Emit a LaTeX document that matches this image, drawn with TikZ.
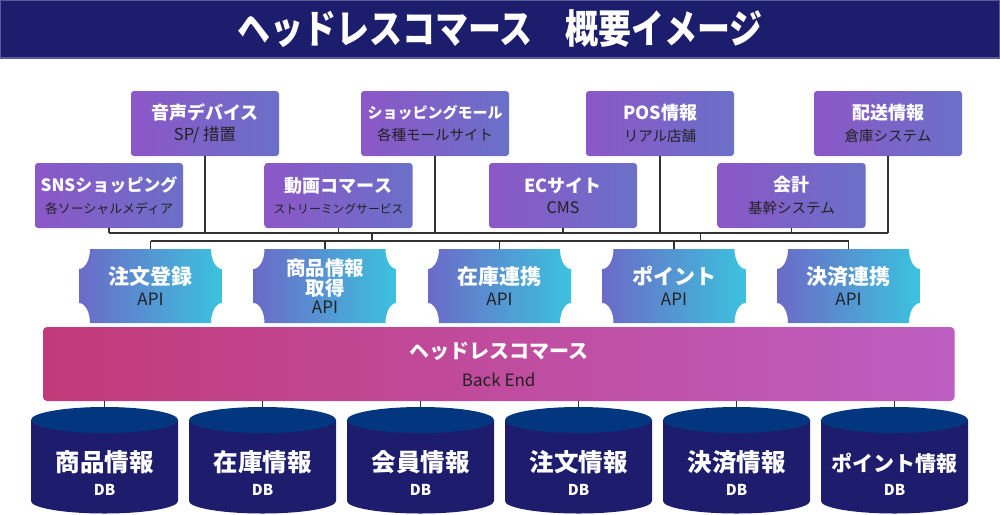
\documentclass[tikz,border=0pt]{standalone}
\usepackage{fontspec}
\setmainfont{Noto Sans CJK JP}
\usetikzlibrary{positioning,calc}

\definecolor{barblue}{HTML}{1D1D6D}
\definecolor{barline}{HTML}{5A5A98}
\definecolor{srcL}{HTML}{8C57C7}
\definecolor{srcR}{HTML}{6A70C8}
\definecolor{apiL}{HTML}{6C6AC7}
\definecolor{apiR}{HTML}{3BC3DE}
\definecolor{beL}{HTML}{C23A79}
\definecolor{beR}{HTML}{BE5EC2}
\definecolor{dbbody}{HTML}{1E1C6C}
\definecolor{dbtop}{HTML}{02367F}
\definecolor{subtext}{HTML}{222222}
\definecolor{wire}{HTML}{333333}

\tikzset{%
    titlebar/.style = {fill=barblue, draw=barline, line width=1.5pt, text=white,
        minimum width=1000pt, minimum height=58pt, inner sep=0pt,
        font=\bfseries\fontsize{33}{36}\selectfont},
    source/.style   = {rectangle, rounded corners=3pt, left color=srcL, right color=srcR,
        minimum width=148pt, minimum height=65pt, inner sep=0pt, align=center,
        text=subtext, font=\fontsize{14.5}{21.5}\selectfont},
    apibox/.style   = {rectangle, minimum width=143pt, minimum height=74pt, inner sep=0pt,
        align=center, text=subtext, font=\fontsize{17}{21}\selectfont,
        path picture={
            \shade[left color=apiL, right color=apiR]
                ([xshift=11pt]path picture bounding box.north west)
                -- ([xshift=-11pt]path picture bounding box.north east)
                arc[start angle=180, end angle=270, x radius=11pt, y radius=20pt]
                -- ([yshift=20pt]path picture bounding box.south east)
                arc[start angle=90, end angle=180, x radius=11pt, y radius=20pt]
                -- ([xshift=11pt]path picture bounding box.south west)
                arc[start angle=0, end angle=90, x radius=11pt, y radius=20pt]
                -- ([yshift=-20pt]path picture bounding box.north west)
                arc[start angle=270, end angle=360, x radius=11pt, y radius=20pt]
                -- cycle;
        }},
    backend/.style  = {rectangle, rounded corners=4pt, left color=beL, right color=beR,
        minimum width=911.5pt, minimum height=74pt, inner sep=0pt, align=center,
        text=subtext, font=\fontsize{17}{28}\selectfont},
    dbcyl/.style    = {rectangle, minimum width=147pt, minimum height=106.5pt, inner sep=0pt,
        align=center, text=white, text height=71pt,
        font=\bfseries\fontsize{15}{24.5}\selectfont,
        path picture={
            \fill[dbbody] ([yshift=-13pt]path picture bounding box.north west)
                -- ([yshift=12.5pt]path picture bounding box.south west)
                arc[start angle=180, end angle=360, x radius=73.5pt, y radius=12.5pt]
                -- ([yshift=-13pt]path picture bounding box.north east) -- cycle;
            \fill[dbtop] ([yshift=-13pt]path picture bounding box.north)
                ellipse[x radius=73.5pt, y radius=13pt];
        }},
    wire/.style     = {draw=wire, line width=1.3pt},
}
\newcommand{\srctitle}[2][18]{{\bfseries\fontsize{#1}{#1}\selectfont\color{white}#2}}
\newcommand{\srcsub}[2][14.5]{{\fontsize{#1}{#1}\selectfont#2}}
\newcommand{\apititle}[2][21]{{\bfseries\fontsize{#1}{#1}\selectfont\color{white}#2}}
\newcommand{\dbtitle}[2][24.5]{{\bfseries\fontsize{#1}{#1}\selectfont#2}}

\begin{document}
\begin{tikzpicture}[x=1pt, y=1pt]
    \useasboundingbox (0,0) rectangle (1000,-514);

    % title
    \node [titlebar] (title) at (500,-29) {\scalebox{1}[1.2]{ヘッドレスコマース　概要イメージ}};

    % the channels, upper row and lower row
    \node [source] (voice) at (205,-123.5) {\srctitle{音声デバイス}\\\srcsub[16.5]{SP/ 措置}};
    \node [source] (mall)  at (435,-123.5) {\srctitle[15]{ショッピングモール}\\\srcsub{各種モールサイト}};
    \node [source] (pos)   at (660,-123.5) {\srctitle{POS情報}\\\srcsub{リアル店舗}};
    \node [source] (ship)  at (888,-123.5) {\srctitle{配送情報}\\\srcsub{倉庫システム}};

    \node [source] (sns)   at (109,-195.5) {\srctitle[17]{SNSショッピング}\\\srcsub[12.9]{各ソーシャルメディア}};
    \node [source] (movie) at (338.5,-195.5) {\srctitle{動画コマース}\\\srcsub[11.8]{ストリーミングサービス}};
    \node [source] (ec)    at (563,-195.5) {\srctitle{ECサイト}\\\srcsub[16]{CMS}};
    \node [source] (acct)  at (791.5,-195.5) {\srctitle{会計}\\\srcsub{基幹システム}};

    % the APIs
    \node [apibox] (api1) at (150.5,-286) {\apititle{注文登録}\\API};
    \node [apibox, node distance=174.5pt, right of=api1] (api2) {\apititle[19.5]{商品情報}\\[-1pt]\apititle[19.5]{取得}\\[-3pt]API};
    \node [apibox, node distance=174.5pt, right of=api2] (api3) {\apititle{在庫連携}\\API};
    \node [apibox, node distance=174.5pt, right of=api3] (api4) {\apititle{ポイント}\\API};
    \node [apibox, node distance=174.5pt, right of=api4] (api5) {\apititle{決済連携}\\API};

    % back end
    \node [backend] (backend) at (498.75,-364) {\apititle[20]{ヘッドレスコマース}\\Back End};

    % databases
    \node [dbcyl] (db1) at (104.5,-460.25) {\dbtitle{商品情報}\\DB};
    \node [dbcyl, node distance=158pt, right of=db1] (db2) {\dbtitle{在庫情報}\\DB};
    \node [dbcyl, node distance=158pt, right of=db2] (db3) {\dbtitle{会員情報}\\DB};
    \node [dbcyl, node distance=158pt, right of=db3] (db4) {\dbtitle{注文情報}\\DB};
    \node [dbcyl, node distance=158pt, right of=db4] (db5) {\dbtitle{決済情報}\\DB};
    \node [dbcyl, node distance=158pt, right of=db5] (db6) {\dbtitle[21]{ポイント情報}\\DB};

    % bus lines
    \coordinate (busU) at (0,-233);
    \coordinate (busL) at (0,-241);
    \coordinate (jA) at (372,-233);
    \coordinate (jB) at (700.5,-233);

    \foreach \n in {sns,voice,movie,mall,ec,pos,acct,ship}
        \draw [wire] (\n.south) -- (\n.south |- busU);
    \draw [wire] (sns.south |- busU) -- (ship.south |- busU);
    \draw [wire] (jA) -- (jA |- busL);
    \draw [wire] (jB) -- (jB |- busL);
    \draw [wire] (api1.north |- busL) -- (api5.north |- busL);
    \foreach \k in {1,...,5}
        \draw [wire] (api\k.north |- busL) -- (api\k.north);
    \foreach \k in {1,...,6}
        \draw [wire] (db\k.north |- backend.south) -- (db\k.north);

\end{tikzpicture}
\end{document}
